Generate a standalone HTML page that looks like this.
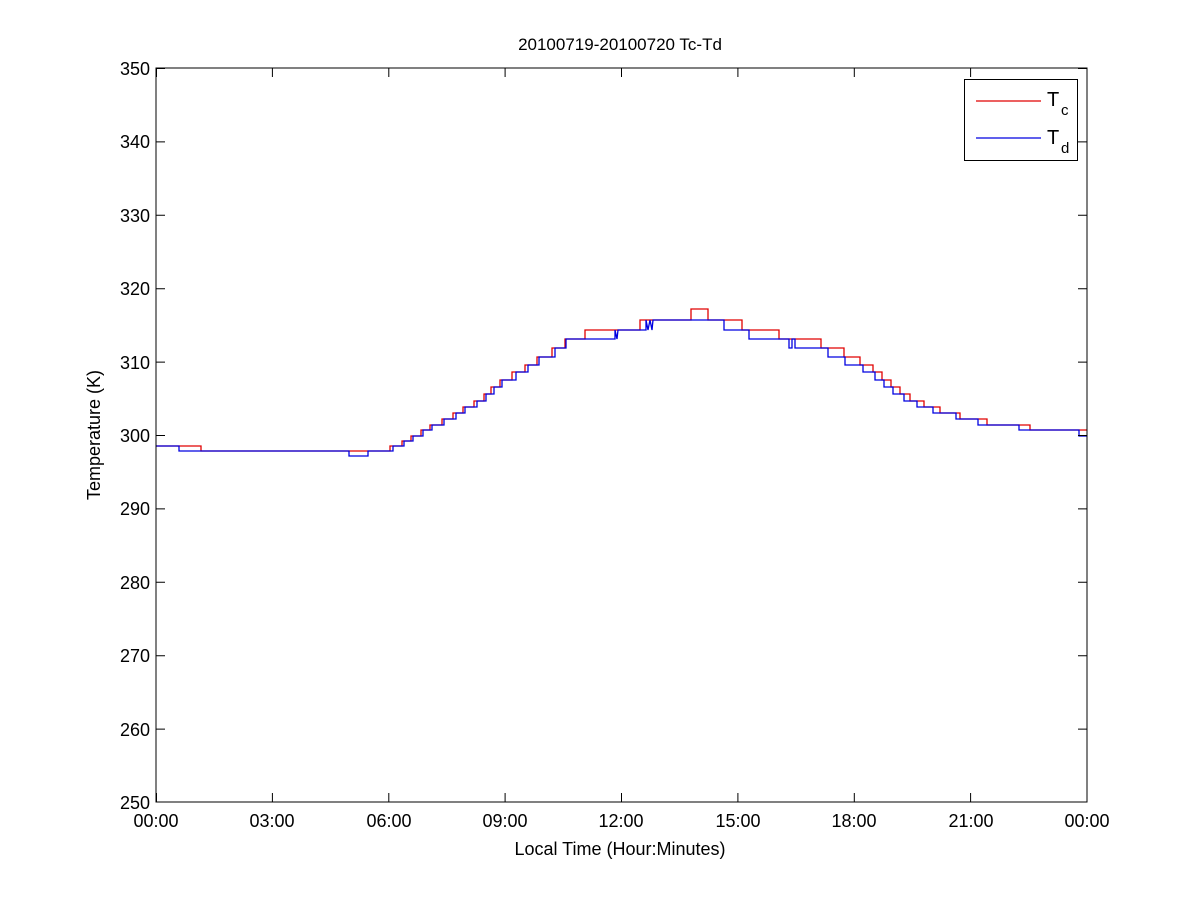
<!DOCTYPE html>
<html><head><meta charset="utf-8"><style>body{margin:0;background:#fff}svg{display:block}text{font-family:"Liberation Sans",sans-serif;fill:#000}</style></head><body>
<svg width="1201" height="901" viewBox="0 0 1201 901">
<rect width="1201" height="901" fill="#fff"/>
<g fill="none" stroke-width="1.3">
<polyline stroke="#e00000" points="156,446 201,446 201,451 390,451 390,446 402,446 402,441 411,441 411,436 421,436 421,430 430,430 430,425 442,425 442,419 453,419 453,413 463,413 463,407 474,407 474,401 484,401 484,394 491,394 491,387 500,387 500,380 512,380 512,372 525,372 525,365 537,365 537,357 552,357 552,348 565,348 565,339 585,339 585,330 640,330 640,320 691,320 691,309 708,309 708,320 742,320 742,330 779,330 779,339 821,339 821,348 844,348 844,357 860,357 860,365 873,365 873,372 882,372 882,380 891,380 891,387 900,387 900,394 910,394 910,401 924,401 924,407 940,407 940,413 960,413 960,419 987,419 987,425 1030,425 1030,430 1087,430"/>
<polyline stroke="#0000e0" points="156,446 179,446 179,451 349,451 349,456 368,456 368,451 393,451 393,446 404,446 404,441 413,441 413,436 423,436 423,430 432,430 432,425 444,425 444,419 456,419 456,413 465,413 465,407 477,407 477,401 486,401 486,394 494,394 494,387 502,387 502,380 516,380 516,372 528,372 528,365 539,365 539,357 555,357 555,348 566,348 566,339 615,339 615,330 617,339 618,330 646,330 646,320 648,330 650,320 652,330 653,320 724,320 724,330 749,330 749,339 789,339 789,348 792,348 792,339 795,339 795,348 828,348 828,357 845,357 845,365 863,365 863,372 875,372 875,380 884,380 884,387 893,387 893,394 904,394 904,401 917,401 917,407 933,407 933,413 956,413 956,419 978,419 978,425 1019,425 1019,430 1079,430 1079,436 1087,436"/>
</g>
<rect x="156" y="68" width="931" height="734" fill="none" stroke="#000" stroke-width="1"/>
<g stroke="#000" stroke-width="1">
<path d="M156.5,68v9M156.5,802v-9M272.4,68v9M272.4,802v-9M388.8,68v9M388.8,802v-9M505.1,68v9M505.1,802v-9M621.5,68v9M621.5,802v-9M737.9,68v9M737.9,802v-9M854.3,68v9M854.3,802v-9M970.6,68v9M970.6,802v-9M1087,68v9M1087,802v-9"/>
<path d="M156,68.5h9M1087,68.5h-9M156,141.9h9M1087,141.9h-9M156,215.3h9M1087,215.3h-9M156,288.7h9M1087,288.7h-9M156,362.1h9M1087,362.1h-9M156,435.5h9M1087,435.5h-9M156,508.9h9M1087,508.9h-9M156,582.3h9M1087,582.3h-9M156,655.7h9M1087,655.7h-9M156,729.1h9M1087,729.1h-9M156,802h9M1087,802h-9"/>
</g>
<g font-size="18" text-anchor="end">
<text x="150" y="75">350</text><text x="150" y="148">340</text><text x="150" y="222">330</text><text x="150" y="295">320</text><text x="150" y="369">310</text><text x="150" y="442">300</text><text x="150" y="515">290</text><text x="150" y="589">280</text><text x="150" y="662">270</text><text x="150" y="736">260</text><text x="150" y="809">250</text>
</g>
<g font-size="18" text-anchor="middle">
<text x="156" y="827">00:00</text><text x="272" y="827">03:00</text><text x="389" y="827">06:00</text><text x="505" y="827">09:00</text><text x="621" y="827">12:00</text><text x="738" y="827">15:00</text><text x="854" y="827">18:00</text><text x="971" y="827">21:00</text><text x="1087" y="827">00:00</text>
<text x="620" y="855">Local Time (Hour:Minutes)</text>
<text x="620" y="50" font-size="17">20100719-20100720 Tc-Td</text>
<text transform="translate(100,435) rotate(-90)">Temperature (K)</text>
</g>
<rect x="964.5" y="79.5" width="113" height="81" fill="#fff" stroke="#000"/>
<line x1="976" y1="101" x2="1041" y2="101" stroke="#e00000" stroke-width="1.2"/>
<line x1="976" y1="138" x2="1041" y2="138" stroke="#0000e0" stroke-width="1.2"/>
<text x="1047" y="106" font-size="20">T</text><text x="1061" y="115" font-size="15">c</text>
<text x="1047" y="144" font-size="20">T</text><text x="1061" y="153" font-size="15">d</text>
</svg>
</body></html>
